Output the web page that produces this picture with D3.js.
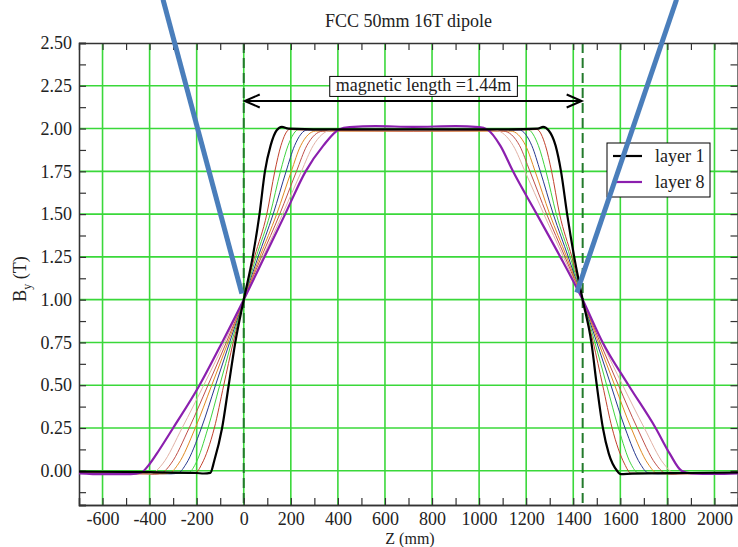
<!DOCTYPE html>
<html>
<head>
<meta charset="utf-8">
<script src="https://cdn.jsdelivr.net/npm/d3@7"></script>
<style>
  body { margin: 0; background: #fff; }
  svg { display: block; }
  text { font-family: "Liberation Serif", "Times New Roman", serif; fill: #222; }
</style>
</head>
<body>
<div id="chart"></div>
<script>
// ---- data ----
const title = "FCC 50mm 16T dipole";
const xTicks = [-600, -400, -200, 0, 200, 400, 600, 800, 1000, 1200, 1400, 1600, 1800, 2000];
const xMinor = [-500, -300, -100, 100, 300, 500, 700, 900, 1100, 1300, 1500, 1700, 1900];
const yTicks = [0, 0.25, 0.5, 0.75, 1.0, 1.25, 1.5, 1.75, 2.0, 2.25, 2.5];
const yMinor = [-0.125, 0.125, 0.375, 0.625, 0.875, 1.125, 1.375, 1.625, 1.875, 2.125, 2.375];
const layerNames = ["layer 1", "layer 2", "layer 3", "layer 4", "layer 5", "layer 6", "layer 7", "layer 8"];
const layerColors = ["#000000", "#c2412d", "#3fd43f", "#27388f", "#e08a22", "#c0504a", "#e2b2a6", "#8b1fae"];

// [Z (mm), By (T)]
const layer1 = [[-700,-0.005],[-400,-0.008],[-200,-0.013],[-170,-0.016],[-142,-0.012],[-125,0.06],[-92,0.25],[-64,0.5],[-36,0.75],[0,1],[38,1.25],[67,1.5],[90,1.75],[114,1.9],[140,1.99],[162,2.01],[190,2.0],[400,1.995],[720,1.995],[1040,1.995],[1250,2.0],[1272,2.01],[1295,1.99],[1325,1.9],[1348,1.75],[1374,1.5],[1404,1.25],[1440,1],[1477,0.75],[1500,0.5],[1526,0.25],[1551,0.1],[1586,0],[1602,-0.02],[1650,-0.017],[1900,-0.013],[2100,-0.01]];
const layer2 = [[-700,-0.008],[-400,-0.01],[-235,-0.015],[-205,-0.012],[-178,0.04],[-125,0.25],[-85,0.5],[-45,0.75],[0,1],[46,1.25],[98,1.5],[132,1.75],[158,1.9],[195,1.995],[230,1.992],[720,1.99],[1210,1.992],[1245,1.995],[1282,1.9],[1308,1.75],[1342,1.5],[1394,1.25],[1440,1],[1485,0.75],[1525,0.5],[1565,0.25],[1618,0.04],[1645,-0.014],[1800,-0.015],[2100,-0.012]];
const layer3 = [[-700,-0.008],[-450,-0.012],[-270,-0.016],[-235,-0.012],[-205,0.04],[-152,0.25],[-102,0.5],[-52,0.75],[0,1],[53,1.25],[112,1.5],[156,1.75],[188,1.9],[235,1.995],[280,1.995],[720,1.995],[1160,1.995],[1205,1.995],[1252,1.9],[1284,1.75],[1328,1.5],[1387,1.25],[1440,1],[1492,0.75],[1542,0.5],[1592,0.25],[1645,0.04],[1675,-0.012],[1720,-0.016],[1900,-0.014],[2100,-0.01]];
const layer4 = [[-700,-0.01],[-500,-0.014],[-310,-0.018],[-277,-0.012],[-245,0.04],[-180,0.25],[-120,0.5],[-60,0.75],[0,1],[61,1.25],[125,1.5],[180,1.75],[216,1.9],[270,1.992],[320,1.99],[720,1.99],[1120,1.99],[1170,1.992],[1224,1.9],[1260,1.75],[1315,1.5],[1379,1.25],[1440,1],[1500,0.75],[1560,0.5],[1620,0.25],[1685,0.04],[1717,-0.012],[1760,-0.018],[1950,-0.014],[2100,-0.01]];
const layer5 = [[-700,-0.01],[-520,-0.015],[-345,-0.018],[-313,-0.012],[-278,0.04],[-206,0.25],[-136,0.5],[-67,0.75],[0,1],[68,1.25],[140,1.5],[202,1.75],[242,1.9],[305,1.985],[360,1.985],[720,1.985],[1080,1.985],[1135,1.985],[1198,1.9],[1238,1.75],[1300,1.5],[1372,1.25],[1440,1],[1507,0.75],[1576,0.5],[1646,0.25],[1718,0.04],[1753,-0.012],[1790,-0.018],[1960,-0.014],[2100,-0.012]];
const layer6 = [[-700,-0.012],[-540,-0.016],[-380,-0.02],[-347,-0.012],[-310,0.04],[-232,0.25],[-152,0.5],[-74,0.75],[0,1],[75,1.25],[153,1.5],[224,1.75],[268,1.9],[335,1.985],[390,1.988],[720,1.985],[1050,1.988],[1105,1.985],[1172,1.9],[1216,1.75],[1287,1.5],[1365,1.25],[1440,1],[1514,0.75],[1592,0.5],[1672,0.25],[1750,0.04],[1787,-0.012],[1820,-0.02],[1980,-0.015],[2100,-0.012]];
const layer7 = [[-700,-0.012],[-560,-0.018],[-415,-0.02],[-385,-0.012],[-345,0.04],[-262,0.25],[-170,0.5],[-82,0.75],[0,1],[82,1.25],[165,1.5],[245,1.75],[295,1.9],[368,1.99],[420,1.995],[720,1.99],[1020,1.995],[1072,1.99],[1145,1.9],[1195,1.75],[1275,1.5],[1358,1.25],[1440,1],[1522,0.75],[1610,0.5],[1702,0.25],[1785,0.04],[1825,-0.012],[1860,-0.02],[2000,-0.016],[2100,-0.012]];
const layer8 = [[-700,-0.015],[-600,-0.02],[-480,-0.02],[-435,-0.01],[-400,0.04],[-360,0.12],[-300,0.25],[-188,0.5],[-92,0.75],[0,1],[88,1.25],[176,1.5],[263,1.75],[338,1.9],[405,1.995],[450,2.008],[560,2.014],[720,2.01],[900,2.014],[1000,2.008],[1034,1.995],[1090,1.9],[1144,1.75],[1245,1.5],[1345,1.25],[1440,1],[1525,0.75],[1635,0.5],[1750,0.25],[1810,0.1],[1860,0.0],[1900,-0.015],[2000,-0.018],[2100,-0.015]];
const layers = [layer1, layer2, layer3, layer4, layer5, layer6, layer7, layer8];
const legendLayers = [0, 7];

const magnetEdges = [0, 1440];
const arrowY = 2.161;
const arrowLabel = "magnetic length =1.44m";
const arrowLabelPos = [764, 2.217];
// blue overlay lines, in data coordinates
const markerLines = [
  [[-343, 2.754], [-8, 1.035]],
  [[1839, 2.754], [1415, 1.041]]
];

// ---- layout ----
const width = 738, height = 547;
const plotLeft = 79, plotTop = 43, plotRight = 738, plotBottom = 505;

const svg = d3.select("#chart").append("svg")
  .attr("width", width)
  .attr("height", height);

const x = d3.scaleLinear().domain([-700, 2100]).range([plotLeft, plotRight]);
const y = d3.scaleLinear().domain([-0.2, 2.5]).range([plotBottom, plotTop]);

const gridColor = "#3ad83a";

// grid
svg.append("g").selectAll("line")
  .data(xTicks)
  .join("line")
  .attr("x1", d => x(d)).attr("x2", d => x(d))
  .attr("y1", plotTop).attr("y2", plotBottom)
  .attr("stroke", gridColor).attr("stroke-width", 1.6);

svg.append("g").selectAll("line")
  .data(yTicks.filter(d => d < 2.5))
  .join("line")
  .attr("x1", plotLeft).attr("x2", plotRight)
  .attr("y1", d => y(d)).attr("y2", d => y(d))
  .attr("stroke", gridColor).attr("stroke-width", 1.6);

// magnet edges
svg.append("g").selectAll("line")
  .data(magnetEdges)
  .join("line")
  .attr("x1", d => x(d)).attr("x2", d => x(d))
  .attr("y1", plotTop).attr("y2", plotBottom)
  .attr("stroke", "#237a2c").attr("stroke-width", 2)
  .attr("stroke-dasharray", "10,5");

// axes (inward ticks)
const styleAxis = g => {
  g.select(".domain").attr("stroke", "#333").attr("stroke-width", 1.3);
  g.selectAll(".tick line").attr("stroke", "#333").attr("stroke-width", 1.2);
  g.selectAll("text").attr("font-size", 18).attr("font-family", "Liberation Serif, serif").attr("fill", "#222");
};

svg.append("g")
  .attr("transform", `translate(0,${plotBottom})`)
  .call(d3.axisBottom(x).tickValues(xTicks).tickSize(-7).tickPadding(7).tickFormat(d => String(d)))
  .call(styleAxis);
svg.append("g")
  .attr("transform", `translate(0,${plotBottom})`)
  .call(d3.axisBottom(x).tickValues(xMinor).tickSize(-7).tickFormat(""))
  .call(styleAxis);
svg.append("g")
  .attr("transform", `translate(0,${plotTop})`)
  .call(d3.axisTop(x).tickValues(xTicks.concat(xMinor)).tickSize(-7).tickFormat(""))
  .call(styleAxis);

svg.append("g")
  .attr("transform", `translate(${plotLeft},0)`)
  .call(d3.axisLeft(y).tickValues(yTicks).tickSize(-7).tickPadding(7).tickFormat(d3.format(".2f")))
  .call(styleAxis);
svg.append("g")
  .attr("transform", `translate(${plotLeft},0)`)
  .call(d3.axisLeft(y).tickValues(yMinor).tickSize(-7).tickFormat(""))
  .call(styleAxis);
svg.append("g")
  .attr("transform", `translate(${plotRight - 0.5},0)`)
  .call(d3.axisRight(y).tickValues(yTicks.concat(yMinor)).tickSize(-7).tickFormat(""))
  .call(styleAxis);

// curves
const line = d3.line()
  .x(d => x(d[0]))
  .y(d => y(d[1]))
  .curve(d3.curveMonotoneX);

const drawOrder = [1, 2, 3, 4, 5, 6, 7, 0];
svg.append("g").selectAll("path")
  .data(drawOrder)
  .join("path")
  .attr("d", i => line(layers[i]))
  .attr("fill", "none")
  .attr("stroke", i => layerColors[i])
  .attr("stroke-width", i => (i === 0 || i === 7) ? 2.2 : 1)
  .attr("stroke-linejoin", "round");

// magnetic length arrow
const arrow = svg.append("g").attr("stroke", "#000").attr("stroke-width", 2).attr("fill", "none");
const ay = y(arrowY);
const ax0 = x(magnetEdges[0]) + 1, ax1 = x(magnetEdges[1]) - 1;
arrow.append("line").attr("x1", ax0).attr("x2", ax1).attr("y1", ay).attr("y2", ay);
arrow.append("path").attr("d", `M${ax0 + 15},${ay - 6.5}L${ax0},${ay}L${ax0 + 15},${ay + 6.5}`);
arrow.append("path").attr("d", `M${ax1 - 15},${ay - 6.5}L${ax1},${ay}L${ax1 - 15},${ay + 6.5}`);

const labelG = svg.append("g");
const labelRect = labelG.append("rect");
const labelText = labelG.append("text")
  .attr("x", x(arrowLabelPos[0]))
  .attr("y", y(arrowLabelPos[1]))
  .attr("text-anchor", "middle")
  .attr("font-size", 18)
  .text(arrowLabel);
const bb = labelText.node().getBBox();
labelRect
  .attr("x", bb.x - 6).attr("y", bb.y + 1)
  .attr("width", bb.width + 12).attr("height", bb.height)
  .attr("fill", "#fff").attr("stroke", "#000").attr("stroke-width", 1);

// legend
const legend = svg.append("g").attr("transform", "translate(607,143)");
legend.append("rect")
  .attr("width", 103).attr("height", 54)
  .attr("fill", "#fff").attr("stroke", "#000").attr("stroke-width", 1);
const entries = legend.selectAll("g.entry")
  .data(legendLayers)
  .join("g")
  .attr("class", "entry")
  .attr("transform", (d, i) => `translate(0,${13 + i * 26})`);
entries.append("line")
  .attr("x1", 6).attr("x2", 35)
  .attr("stroke", d => layerColors[d]).attr("stroke-width", 2.2);
entries.append("text")
  .attr("x", 48).attr("y", 6)
  .attr("font-size", 18)
  .text(d => layerNames[d]);

// titles
svg.append("text")
  .attr("x", (plotLeft + plotRight) / 2).attr("y", 27)
  .attr("text-anchor", "middle")
  .attr("font-size", 18)
  .text(title);

svg.append("text")
  .attr("x", 410).attr("y", 543.5)
  .attr("text-anchor", "middle")
  .attr("font-size", 16)
  .text("Z (mm)");

const yl = svg.append("text")
  .attr("transform", "translate(26,279) rotate(-90)")
  .attr("text-anchor", "middle")
  .attr("font-size", 18);
yl.append("tspan").text("B");
yl.append("tspan").attr("font-size", 12).attr("dy", 5).text("y");
yl.append("tspan").attr("dy", -5).text(" (T)");

// blue overlay lines
svg.append("g").selectAll("line")
  .data(markerLines)
  .join("line")
  .attr("x1", d => x(d[0][0])).attr("y1", d => y(d[0][1]))
  .attr("x2", d => x(d[1][0])).attr("y2", d => y(d[1][1]))
  .attr("stroke", "#4a7ebb").attr("stroke-width", 5);
</script>
</body>
</html>
